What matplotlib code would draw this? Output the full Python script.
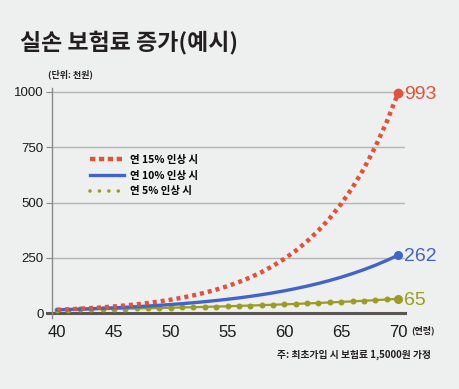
# 실손 보험료 증가 예시 차트

import matplotlib.pyplot as plt
from matplotlib.lines import Line2D

ages = list(range(40, 71))

# 연 15% 인상 (천원)
rate15 = [15.0, 17.3, 19.8, 22.8, 26.2, 30.2, 34.7, 39.9, 45.9, 52.8,
          60.7, 69.8, 80.3, 92.3, 106.1, 122.1, 140.4, 161.4, 185.6, 213.5,
          245.5, 282.3, 324.7, 373.4, 429.4, 493.8, 567.9, 653.0, 751.0, 863.6,
          993.2]
# 연 10% 인상
rate10 = [15.0, 16.5, 18.2, 20.0, 22.0, 24.2, 26.6, 29.2, 32.2, 35.4,
          38.9, 42.8, 47.1, 51.8, 57.0, 62.7, 68.9, 75.8, 83.4, 91.7,
          100.9, 111.0, 122.1, 134.3, 147.8, 162.5, 178.8, 196.7, 216.3, 238.0,
          261.7]
# 연 5% 인상
rate5 = [15.0, 15.8, 16.5, 17.4, 18.2, 19.1, 20.1, 21.1, 22.2, 23.3,
         24.4, 25.7, 26.9, 28.3, 29.7, 31.2, 32.7, 34.4, 36.1, 37.9,
         39.8, 41.8, 43.9, 46.1, 48.4, 50.8, 53.3, 56.0, 58.8, 61.7,
         64.8]

end_labels = ['993', '262', '65']
legend_labels = ['연 15% 인상 시', '연 10% 인상 시', '연 5% 인상 시']
yticks = [0, 250, 500, 750, 1000]
xticks = [40, 45, 50, 55, 60, 65, 70]

RED = '#e0533b'
BLUE = '#4264c8'
OLIVE = '#9b9c25'
BG = '#eef0ef'
NUM_FONT = ['Liberation Sans', 'DejaVu Sans']

plt.rcParams['font.family'] = ['Noto Sans CJK KR', 'DejaVu Sans']

fig = plt.figure(figsize=(4.6, 3.89), dpi=100, facecolor=BG)
ax = fig.add_axes([0.113, 0.1825, 0.767, 0.5915], facecolor=BG)

ax.set_xlim(39.55, 70.6)
ax.set_ylim(-22, 1018)

# grid lines
for y in yticks[1:]:
    ax.axhline(y, color='#b4b6b5', lw=1.0, zorder=1)
ax.axhline(0, color='#5a5654', lw=2.2, zorder=2, xmin=-0.015, clip_on=False)

# series
ax.plot(ages, rate5, color=OLIVE, lw=1.6, marker='o', ms=3.3, zorder=3)
ax.plot(ages, rate10, color=BLUE, lw=2.4, zorder=4)
ax.plot(ages, rate15, color=RED, lw=3.2, dashes=(0.9, 0.9), zorder=5)

for vals, col, lab, ms in [(rate15, RED, end_labels[0], 6),
                           (rate10, BLUE, end_labels[1], 5.5),
                           (rate5, OLIVE, end_labels[2], 5.5)]:
    ax.plot(ages[-1], vals[-1], 'o', color=col, ms=ms, zorder=6, clip_on=False)
    ax.annotate(lab, (ages[-1], vals[-1]), xytext=(4.5, -1), textcoords='offset points',
                color=col, fontsize=14, va='center', ha='left',
                family=NUM_FONT, annotation_clip=False)

# axes styling
for s in ['top', 'right', 'bottom']:
    ax.spines[s].set_visible(False)
ax.spines['left'].set_color('#8a8a8a')
ax.spines['left'].set_linewidth(1.0)
ax.set_yticks(yticks)
ax.set_xticks(xticks)
ax.tick_params(axis='y', length=4, color='#8a8a8a', pad=2, labelsize=9.5, labelcolor='#1a1a1a')
ax.tick_params(axis='x', length=0, pad=5, labelsize=12, labelcolor='#1a1a1a')
for lbl in ax.get_xticklabels() + ax.get_yticklabels():
    lbl.set_family(NUM_FONT)

# legend
handles = [Line2D([], [], color=RED, lw=3.2, dashes=(1.2, 0.8)),
           Line2D([], [], color=BLUE, lw=2.4),
           Line2D([], [], color=OLIVE, lw=2.6, dashes=(0.01, 2.6), dash_capstyle='round')]
ax.legend(handles, legend_labels, loc='upper left', bbox_to_anchor=(0.08, 0.75),
          frameon=False, handlelength=3.3, handletextpad=0.6,
          labelspacing=0.55, prop={'weight': 'bold', 'size': 7.5})

# texts
fig.text(0.043, 0.89, '실손 보험료 증가(예시)', fontsize=16.5, fontweight='bold',
         color='#231f20', va='center', ha='left')
fig.text(0.105, 0.808, '(단위: 천원)', fontsize=6.5, fontweight='bold',
         color='#231f20', va='center', ha='left')
fig.text(0.893, 0.152, '(연령)', fontsize=6.5, fontweight='bold',
         color='#231f20', va='center', ha='left')
fig.text(0.937, 0.087, '주: 최초가입 시 보험료 1,5000원 가정', fontsize=7, fontweight='bold',
         color='#231f20', va='center', ha='right')

fig.savefig('out.png', dpi=100, facecolor=BG)
